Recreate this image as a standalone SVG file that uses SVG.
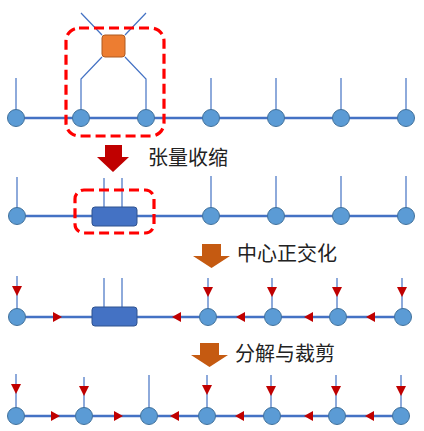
<svg xmlns="http://www.w3.org/2000/svg" width="424" height="431" viewBox="0 0 424 431">
<style>
.bond{stroke:#4472C4;stroke-width:2.5;fill:none}
.leg{stroke:#4472C4;stroke-width:1.2;fill:none}
.node{fill:#5B9BD5;stroke:#41719C;stroke-width:1}
.box{fill:#4472C4;stroke:#2F528F;stroke-width:1}
.sq{fill:#ED7D31;stroke:#AE5A21;stroke-width:1}
.sel{fill:none;stroke:#FF0000;stroke-width:3.2;stroke-dasharray:10 5}
.mk{fill:#C00000}
.lbl{font-family:"Noto Sans CJK SC","Noto Sans",sans-serif;font-size:20px;fill:#222}
</style>
<defs>
<path id="dn" d="M0,0 L-5,-10 L5,-10 Z" class="mk"/>
<path id="rt" d="M0,0 L-9,-5 L-9,5 Z" class="mk"/>
<path id="lt" d="M0,0 L9,-5 L9,5 Z" class="mk"/>
</defs>
<g id="connectors">
<!-- row 1 -->
<line class="bond" x1="16" y1="118" x2="406" y2="118"/>
<path class="leg" d="M16,118 V78 M211,118 V78 M276,118 V78 M341,118 V78 M406,118 V78"/>
<path class="leg" d="M81,118 V79 L102,57 M146,118 V79 L125,57 M81,13 L102,35 M146,13 L125,35"/>
<!-- row 2 -->
<line class="bond" x1="17" y1="216" x2="406" y2="216"/>
<path class="leg" d="M17,216 V177 M104,207 V178 M122,207 V178 M211,216 V176 M276,216 V176 M341,216 V176 M406,216 V176"/>
<!-- row 3 -->
<line class="bond" x1="17" y1="317" x2="403" y2="317"/>
<path class="leg" d="M17,317 V276 M104,307 V278 M122,307 V278 M208,317 V278 M272,317 V278 M337,317 V278 M402,317 V278"/>
<!-- row 4 -->
<line class="bond" x1="16" y1="416" x2="401" y2="416"/>
<path class="leg" d="M16,416 V374 M84,416 V377 M149,416 V375 M207,416 V375 M271,416 V375 M336,416 V375 M401,416 V375"/>
</g>
<g id="markers">
<use href="#dn" x="17" y="296"/>
<use href="#dn" x="208" y="297"/>
<use href="#dn" x="272" y="297"/>
<use href="#dn" x="337" y="297"/>
<use href="#dn" x="402" y="297"/>
<use href="#rt" x="62" y="317"/>
<use href="#lt" x="172" y="317"/>
<use href="#lt" x="236" y="317"/>
<use href="#lt" x="304" y="317"/>
<use href="#lt" x="366" y="317"/>
<use href="#dn" x="16" y="394"/>
<use href="#dn" x="84" y="396"/>
<use href="#dn" x="207" y="395"/>
<use href="#dn" x="271" y="396"/>
<use href="#dn" x="336" y="396"/>
<use href="#dn" x="401" y="396"/>
<use href="#rt" x="60" y="416"/>
<use href="#rt" x="123" y="416"/>
<use href="#lt" x="170" y="416"/>
<use href="#lt" x="235" y="416"/>
<use href="#lt" x="304" y="416"/>
<use href="#lt" x="365" y="416"/>
</g>
<g id="row1">
<g id="n1-1"><circle class="node" cx="16" cy="118" r="8.5"/></g>
<g id="n1-2"><circle class="node" cx="81" cy="118" r="8.5"/></g>
<g id="n1-3"><circle class="node" cx="146" cy="118" r="8.5"/></g>
<g id="n1-4"><circle class="node" cx="211" cy="118" r="8.5"/></g>
<g id="n1-5"><circle class="node" cx="276" cy="118" r="8.5"/></g>
<g id="n1-6"><circle class="node" cx="341" cy="118" r="8.5"/></g>
<g id="n1-7"><circle class="node" cx="406" cy="118" r="8.5"/></g>
<g id="gate"><rect class="sq" x="102" y="35" width="23" height="22" rx="3"/></g>
<g id="sel1"><rect class="sel" x="66" y="28" width="98" height="108" rx="13"/></g>
</g>
<g id="step1">
<path d="M105,145 H122 V157 H129 L113,172 L97,157 H105 Z" fill="#C00000"/>
<text class="lbl" x="148" y="165">张量收缩</text>
</g>
<g id="row2">
<g id="n2-1"><circle class="node" cx="17" cy="216" r="8.5"/></g>
<g id="n2-c"><rect class="box" x="92" y="207" width="45" height="19" rx="3"/></g>
<g id="n2-4"><circle class="node" cx="211" cy="216" r="8.5"/></g>
<g id="n2-5"><circle class="node" cx="276" cy="216" r="8.5"/></g>
<g id="n2-6"><circle class="node" cx="341" cy="216" r="8.5"/></g>
<g id="n2-7"><circle class="node" cx="406" cy="216" r="8.5"/></g>
<g id="sel2"><rect class="sel" x="75" y="190" width="79" height="43" rx="9"/></g>
</g>
<g id="step2">
<path d="M202,244 H221 V256 H230 L211.5,268 L193,256 H202 Z" fill="#C55A11"/>
<text class="lbl" x="237" y="261">中心正交化</text>
</g>
<g id="row3">
<g id="n3-1"><circle class="node" cx="17" cy="317" r="8.5"/></g>
<g id="n3-c"><rect class="box" x="92" y="307" width="45" height="19" rx="3"/></g>
<g id="n3-4"><circle class="node" cx="208" cy="317" r="8.5"/></g>
<g id="n3-5"><circle class="node" cx="273" cy="317" r="8.5"/></g>
<g id="n3-6"><circle class="node" cx="338" cy="317" r="8.5"/></g>
<g id="n3-7"><circle class="node" cx="403" cy="317" r="8.5"/></g>
</g>
<g id="step3">
<path d="M200,343 H219 V355 H228 L209.5,367 L191,355 H200 Z" fill="#C55A11"/>
<text class="lbl" x="235" y="361">分解与裁剪</text>
</g>
<g id="row4">
<g id="n4-1"><circle class="node" cx="16" cy="416" r="8.5"/></g>
<g id="n4-2"><circle class="node" cx="84" cy="416" r="8.5"/></g>
<g id="n4-3"><circle class="node" cx="149" cy="416" r="8.5"/></g>
<g id="n4-4"><circle class="node" cx="207" cy="416" r="8.5"/></g>
<g id="n4-5"><circle class="node" cx="272" cy="416" r="8.5"/></g>
<g id="n4-6"><circle class="node" cx="337" cy="416" r="8.5"/></g>
<g id="n4-7"><circle class="node" cx="401" cy="416" r="8.5"/></g>
</g>
</svg>
